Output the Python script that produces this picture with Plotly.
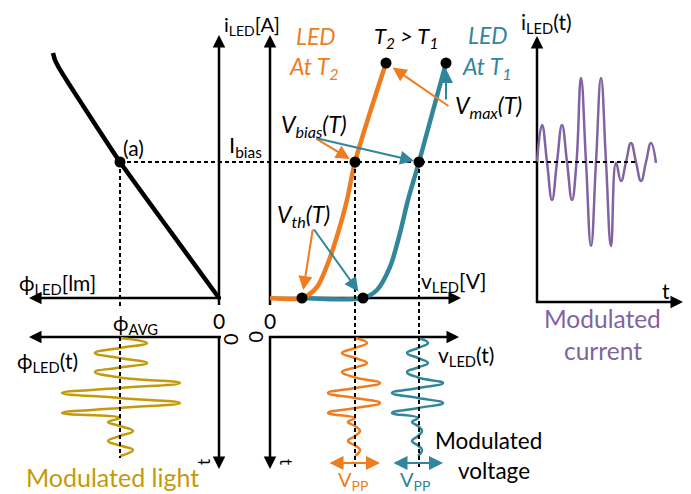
import plotly.graph_objects as go

W, H = 691, 494
FONT = "Lato"
ORANGE = "#EF7D1F"
TEAL = "#31869B"
PURPLE = "#8064A2"
GOLD = "#C49A0A"

# ---------------- data ----------------
# Panel A: luminous flux (lm) vs LED current (A)
PHI_CURVE_PHI = [0.0, 0.495, 1.0, 1.293, 1.535, 1.616, 1.657, 1.677]
PHI_CURVE_I = [0.0, 0.493, 1.0, 1.324, 1.596, 1.691, 1.75, 1.801]
PHI_AVG = 1.0
I_BIAS = 1.0
I_MAX = 1.728

# Panel B: I-V curves at T2 (hot) and T1
IV_T2_V = [0.0, 0.64, 0.94, 1.16, 1.36, 1.54, 1.70, 2.32]
IV_T2_I = [0.0, 0.0, 0.081, 0.257, 0.478, 0.721, 1.0, 1.728]
IV_T1_V = [0.64, 1.86, 2.14, 2.40, 2.60, 2.76, 2.98, 3.52]
IV_T1_I = [0.0, 0.0, 0.059, 0.228, 0.478, 0.721, 1.0, 1.728]
V_TH = [0.64, 1.86]     # [T2, T1]
V_BIAS = [1.70, 2.98]
V_MAX = [2.32, 3.52]

# Panel C: modulated current i(t)
T_I = [0.0, 0.25, 0.5, 0.75, 1.0, 1.25, 1.5, 1.75, 1.975, 2.2, 2.45, 2.7, 2.95,
       3.2, 3.45, 3.7, 3.95, 4.2, 4.45, 4.7, 4.95, 5.2, 5.45, 5.7, 5.95]
I_T = [1.0, 1.272, 1.0, 0.721, 1.0, 1.272, 1.0, 0.721, 1.0, 1.618, 1.0, 0.382, 1.0,
       1.618, 1.0, 0.382, 0.993, 0.86, 1.0, 1.14, 1.0, 0.86, 1.0, 1.14, 0.993]

# Panels D/E: modulated light and voltages (time runs downward)
T_B = [0.05, 0.3, 0.55, 0.8, 1.05, 1.3, 1.525, 1.75, 2.025, 2.3, 2.55, 2.8, 3.05,
       3.3, 3.55, 3.8, 4.05, 4.25, 4.45, 4.7, 4.95, 5.2, 5.425, 5.65, 5.95]
PHI_T = [1.0, 0.727, 1.0, 1.253, 1.0, 0.727, 1.0, 1.253, 1.0, 0.394, 1.0, 1.586, 1.0,
         0.394, 1.0, 1.586, 1.0, 1.121, 1.0, 0.869, 1.0, 1.121, 1.0, 0.869, 1.0]
V_T2_T = [1.70, 1.94, 1.70, 1.44, 1.70, 1.94, 1.70, 1.44, 1.70, 2.20, 1.70, 1.16, 1.70,
          2.20, 1.70, 1.16, 1.70, 1.56, 1.70, 1.80, 1.70, 1.56, 1.70, 1.80, 1.70]
V_T1_T = [2.96, 3.16, 2.96, 2.74, 2.96, 3.16, 2.96, 2.74, 2.96, 3.46, 2.96, 2.44, 2.96,
          3.46, 2.96, 2.44, 2.96, 2.84, 2.96, 3.04, 2.96, 2.84, 2.96, 3.04, 2.96]

# ---------------- layout geometry (pixels) ----------------
PX_PHI0, PX_PER_PHI = 219, 99.0
PX_V0, PX_PER_V = 270, 50.0
PX_T0, PX_PER_T = 537, 20.0
PY_I0, PY_PER_I = 298, 136.0
PY_TB0, PY_PER_TB = 337, 20.0

XMAP = {
    "x": lambda p: (PX_PHI0 - p) / PX_PER_PHI,
    "x2": lambda p: (p - PX_V0) / PX_PER_V,
    "x3": lambda p: (p - PX_T0) / PX_PER_T,
}
YMAP = {
    "y": lambda p: (PY_I0 - p) / PY_PER_I,
    "y2": lambda p: (p - PY_TB0) / PY_PER_TB,
}
XINV = {
    "x": lambda v: PX_PHI0 - v * PX_PER_PHI,
    "x2": lambda v: PX_V0 + v * PX_PER_V,
    "x3": lambda v: PX_T0 + v * PX_PER_T,
}
YINV = {
    "y": lambda v: PY_I0 - v * PY_PER_I,
    "y2": lambda v: PY_TB0 + v * PY_PER_TB,
}

def xp(px):
    return px / W

def yp(py):
    return 1 - py / H

fig = go.Figure()

hidden = dict(visible=False, showgrid=False, zeroline=False, fixedrange=True)
fig.update_layout(
    width=W, height=H, margin=dict(l=0, r=0, t=0, b=0),
    paper_bgcolor="white", plot_bgcolor="white", showlegend=False,
    xaxis=dict(range=[XMAP["x"](0), XMAP["x"](W)], domain=[0, 1], **hidden),
    xaxis2=dict(range=[XMAP["x2"](0), XMAP["x2"](W)], overlaying="x", **hidden),
    xaxis3=dict(range=[XMAP["x3"](0), XMAP["x3"](W)], overlaying="x", **hidden),
    yaxis=dict(range=[YMAP["y"](H), YMAP["y"](0)], domain=[0, 1], **hidden),
    yaxis2=dict(range=[YMAP["y2"](H), YMAP["y2"](0)], overlaying="y", **hidden),
)

def trace(x, y, xa, ya, **kw):
    fig.add_trace(go.Scatter(x=x, y=y, xaxis=xa, yaxis=ya, hoverinfo="skip", **kw))

# ---------------- dashed guide lines ----------------
DASH = dict(color="black", width=2, dash="4px,3px")
fig.add_shape(type="line", xref="paper", yref="y",
              x0=xp(XINV["x"](PHI_AVG)), x1=xp(XINV["x3"](4.9)),
              y0=I_BIAS, y1=I_BIAS, line=DASH)
fig.add_shape(type="line", xref="x", yref="y", x0=PHI_AVG, x1=PHI_AVG,
              y0=I_BIAS, y1=YMAP["y"](308), line=DASH)
fig.add_shape(type="line", xref="x", yref="y2", x0=PHI_AVG, x1=PHI_AVG,
              y0=0, y1=YMAP["y2"](458), line=DASH)
for vb in V_BIAS:
    fig.add_shape(type="line", xref="x2", yref="paper", x0=vb, x1=vb,
                  y0=yp(YINV["y"](I_BIAS)), y1=yp(468), line=DASH)

# ---------------- axis lines ----------------
AXES = [
    ("x", "y", (219, 305), (219, 35)),
    ("x", "y", (221, 298), (29, 298)),
    ("x2", "y", (270, 305), (270, 35)),
    ("x2", "y", (269, 298), (461, 298)),
    ("x3", "y", (537, 303), (537, 36)),
    ("x3", "y", (536, 302), (683, 302)),
    ("x", "y2", (221, 337), (29, 337)),
    ("x", "y2", (219, 336), (219, 469)),
    ("x2", "y2", (269, 337), (459, 337)),
    ("x2", "y2", (270, 336), (270, 469)),
]
axis_heads = []
for xa, ya, p0, p1 in AXES:
    dx, dy = p1[0] - p0[0], p1[1] - p0[1]
    L = (dx * dx + dy * dy) ** 0.5
    ux, uy = dx / L, dy / L
    pe = (p1[0] - 6 * ux, p1[1] - 6 * uy)
    trace([XMAP[xa](p0[0]), XMAP[xa](pe[0])], [YMAP[ya](p0[1]), YMAP[ya](pe[1])], xa, ya,
          mode="lines", line=dict(color="black", width=2.5))
    pb = (p1[0] - 12 * ux, p1[1] - 12 * uy)
    axis_heads.append((xa, ya, p1, pb))

# ---------------- curves ----------------
trace(PHI_CURVE_PHI, PHI_CURVE_I, "x", "y", mode="lines",
      line=dict(color="black", width=4.5, shape="spline", smoothing=0.6))
trace(IV_T1_V, IV_T1_I, "x2", "y", mode="lines",
      line=dict(color=TEAL, width=4.5, shape="spline", smoothing=0.8))
trace(IV_T2_V, IV_T2_I, "x2", "y", mode="lines",
      line=dict(color=ORANGE, width=4.5, shape="spline", smoothing=0.8))
WAVE = dict(width=2.5, shape="spline", smoothing=1.3)
trace(T_I, I_T, "x3", "y", mode="lines", line=dict(color=PURPLE, **WAVE))
trace(PHI_T, T_B, "x", "y2", mode="lines", line=dict(color=GOLD, **WAVE))
trace(V_T2_T, T_B, "x2", "y2", mode="lines", line=dict(color=ORANGE, **WAVE))
trace(V_T1_T, T_B, "x2", "y2", mode="lines", line=dict(color=TEAL, **WAVE))

DOT = dict(color="black", size=11)
trace([PHI_AVG], [I_BIAS], "x", "y", mode="markers", marker=DOT)
trace(V_TH, [0, 0], "x2", "y", mode="markers", marker=DOT)
trace(V_BIAS, [I_BIAS, I_BIAS], "x2", "y", mode="markers", marker=DOT)
trace(V_MAX, [I_MAX, I_MAX], "x2", "y", mode="markers", marker=DOT)

# ---------------- arrows ----------------
def arrow(x, y, ax, ay, xa, ya, color="black", width=2.0, size=1.4, standoff=0, both=False):
    fig.add_annotation(x=x, y=y, ax=ax, ay=ay, xref=xa, yref=ya, axref=xa, ayref=ya,
                       text="", showarrow=True, arrowhead=2, arrowsize=size,
                       arrowwidth=width, arrowcolor=color, standoff=standoff,
                       startstandoff=0, arrowside="end+start" if both else "end",
                       startarrowhead=2, startarrowsize=size, font=dict(size=10))

for xa, ya, p1, pb in axis_heads:
    arrow(XMAP[xa](p1[0]), YMAP[ya](p1[1]), XMAP[xa](pb[0]), YMAP[ya](pb[1]), xa, ya,
          width=2.5, size=1.0)

tail = (XMAP["x2"](315), YMAP["y"](138))
arrow(V_BIAS[0], I_BIAS, *tail, "x2", "y", color=ORANGE, standoff=6)
arrow(V_BIAS[1], I_BIAS, *tail, "x2", "y", color=TEAL, standoff=5)
tail = (XMAP["x2"](313), YMAP["y"](228))
arrow(V_TH[0], 0, *tail, "x2", "y", color=ORANGE, standoff=8)
arrow(V_TH[1], 0, *tail, "x2", "y", color=TEAL, standoff=8)
arrow(V_MAX[0], I_MAX, XMAP["x2"](450), YMAP["y"](107), "x2", "y", color=ORANGE, standoff=8)
arrow(V_MAX[1], I_MAX, XMAP["x2"](446), YMAP["y"](101), "x2", "y", color=TEAL, standoff=6)
t_pp = YMAP["y2"](463)
arrow(max(V_T2_T), t_pp, min(V_T2_T), t_pp, "x2", "y2", color=ORANGE, both=True)
arrow(max(V_T1_T), t_pp, min(V_T1_T), t_pp, "x2", "y2", color=TEAL, both=True)

# ---------------- text ----------------
def label(text, px, py, size=20, color="black", angle=0):
    fig.add_annotation(text=text, x=xp(px), y=yp(py), xref="paper", yref="paper",
                       showarrow=False, xanchor="center", yanchor="middle",
                       textangle=angle, font=dict(family=FONT, size=size, color=color))

label("i<sub>LED</sub>[A]", 252, 26)
label("I<sub>bias</sub>", 245, 146, size=22)
label("(a)", 133, 147, size=21)
label("ϕ<sub>LED</sub>[lm]", 57, 284, size=21)
label("0", 219, 320, size=21)
label("0", 270, 320, size=21)
label("ϕ<sub>AVG</sub>", 135, 324, size=21)
label("ϕ<sub>LED</sub>(t)", 47, 362, size=21)
label("0", 230, 339, size=20, angle=-90)
label("0", 257, 337, size=20, angle=90)
label("t", 203, 462, size=17, angle=-90)
label("t", 287, 462, size=17, angle=90)
label("Modulated light", 112, 477, size=25, color=GOLD)
label("v<sub>LED</sub>(t)", 466, 356, size=21)
label("V<sub>PP</sub>", 353, 480, size=20, color=ORANGE)
label("V<sub>PP</sub>", 415, 480, size=20, color=TEAL)
label("Modulated", 488, 440, size=22.5)
label("voltage", 494, 470, size=22.5)
label("v<sub>LED</sub>[V]", 453, 282, size=21)
label("<i>LED</i>", 316, 36, size=23, color=ORANGE)
label("<i>At T<sub>2</sub></i>", 314, 68, size=23, color=ORANGE)
label("<i>T<sub>2</sub> > T<sub>1</sub></i>", 406, 37, size=22)
label("<i>LED</i>", 488, 35, size=23, color=TEAL)
label("<i>At T<sub>1</sub></i>", 487, 67, size=23, color=TEAL)
label("<i>V<sub>bias</sub>(T)</i>", 314, 125, size=23)
label("<i>V<sub>th</sub>(T)</i>", 303, 215, size=23)
label("<i>V<sub>max</sub>(T)</i>", 488, 106, size=23)
label("i<sub>LED</sub>(t)", 546, 23, size=21)
label("t", 666, 290, size=21)
label("Modulated", 602, 318, size=24.5, color=PURPLE)
label("current", 603, 350, size=24.5, color=PURPLE)

fig.write_html("out.html", config={"displayModeBar": False},
               post_script="document.body.style.margin='0';")
